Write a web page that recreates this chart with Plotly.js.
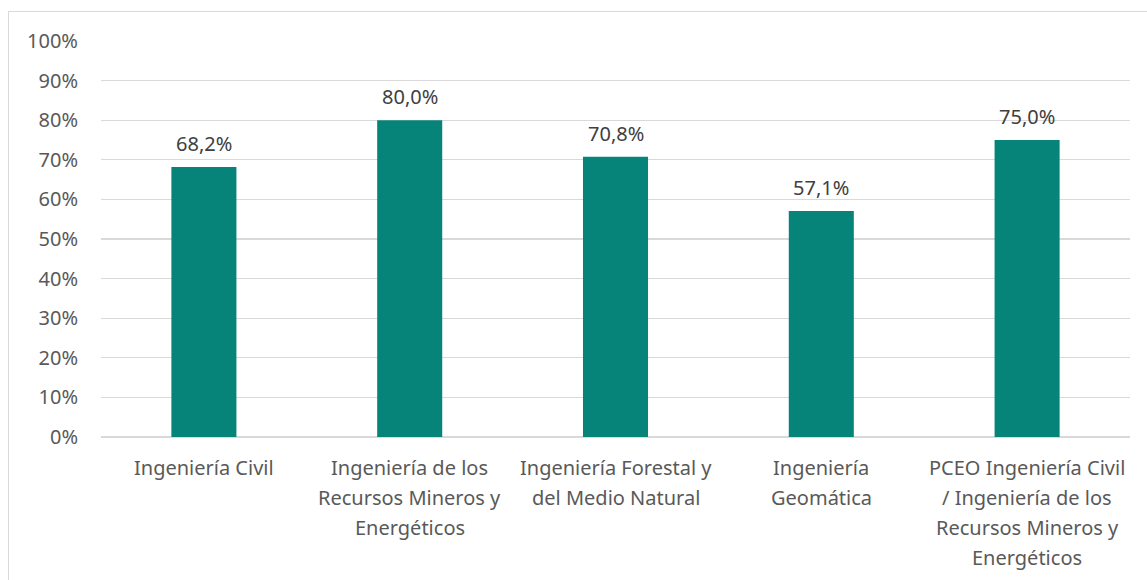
<!DOCTYPE html>
<html><head><meta charset="utf-8">
<script src="https://cdn.plot.ly/plotly-3.0.1.min.js"></script>
<style>
body{margin:0;background:#fff;}
#wrap{position:relative;width:1147px;height:580px;}
#chart{width:1147px;height:580px;}
#frame{position:absolute;left:8px;top:11px;width:1200px;height:600px;border-left:1px solid #D9D9D9;border-top:1px solid #D9D9D9;pointer-events:none;}
</style></head>
<body><div id="wrap"><div id="chart"></div><div id="frame"></div></div>
<script>
const categories = [
  "Ingeniería Civil",
  "Ingeniería de los<br>Recursos Mineros y<br>Energéticos",
  "Ingeniería Forestal y<br>del Medio Natural",
  "Ingeniería<br>Geomática",
  "PCEO Ingeniería Civil<br>/ Ingeniería de los<br>Recursos Mineros y<br>Energéticos"
];
const values = [0.682, 0.800, 0.708, 0.571, 0.750];
const valueLabels = ["68,2%", "80,0%", "70,8%", "57,1%", "75,0%"];
const yTickVals = [0,0.1,0.2,0.3,0.4,0.5,0.6,0.7,0.8,0.9,1.0];
const yTickText = ["0%","10%","20%","30%","40%","50%","60%","70%","80%","90%","100%"];

const FONT = "Noto Sans, sans-serif";
const FS = 20;

const trace = {
  type: "bar",
  x: categories,
  y: values,
  marker: {color: "#07847A"},
  hoverinfo: "none"
};

const annotations = [];
categories.forEach((c, i) => {
  annotations.push({
    x: c, y: values[i], xref: "x", yref: "y",
    text: valueLabels[i], showarrow: false,
    yanchor: "bottom", yshift: 8,
    font: {family: FONT, size: FS, color: "#404040"}
  });
});
categories.forEach((c) => {
  c.split("<br>").forEach((line, j) => {
    annotations.push({
      x: c, y: 0, xref: "x", yref: "paper",
      text: line, showarrow: false,
      yanchor: "middle", yshift: -30 - j * 30,
      font: {family: FONT, size: FS, color: "#595959"}
    });
  });
});

const layout = {
  width: 1147, height: 580,
  margin: {l: 101, r: 17, t: 41, b: 143},
  paper_bgcolor: "#fff", plot_bgcolor: "#fff",
  bargap: 0.684,
  showlegend: false,
  font: {family: FONT, color: "#595959", size: FS},
  xaxis: {
    showgrid: false, showline: false, zeroline: false, ticks: "",
    showticklabels: false
  },
  yaxis: {
    range: [0, 1.0], tickvals: yTickVals, ticktext: yTickText,
    showgrid: true, gridcolor: "#D9D9D9", gridwidth: 1.3,
    zeroline: true, zerolinecolor: "#D9D9D9", zerolinewidth: 1.3,
    showline: false, ticks: "",
    tickfont: {family: FONT, size: FS, color: "#595959"},
    ticklabelstandoff: 22
  },
  annotations: annotations
};
Plotly.newPlot("chart", [trace], layout, {displayModeBar: false, staticPlot: true});
</script></body></html>
